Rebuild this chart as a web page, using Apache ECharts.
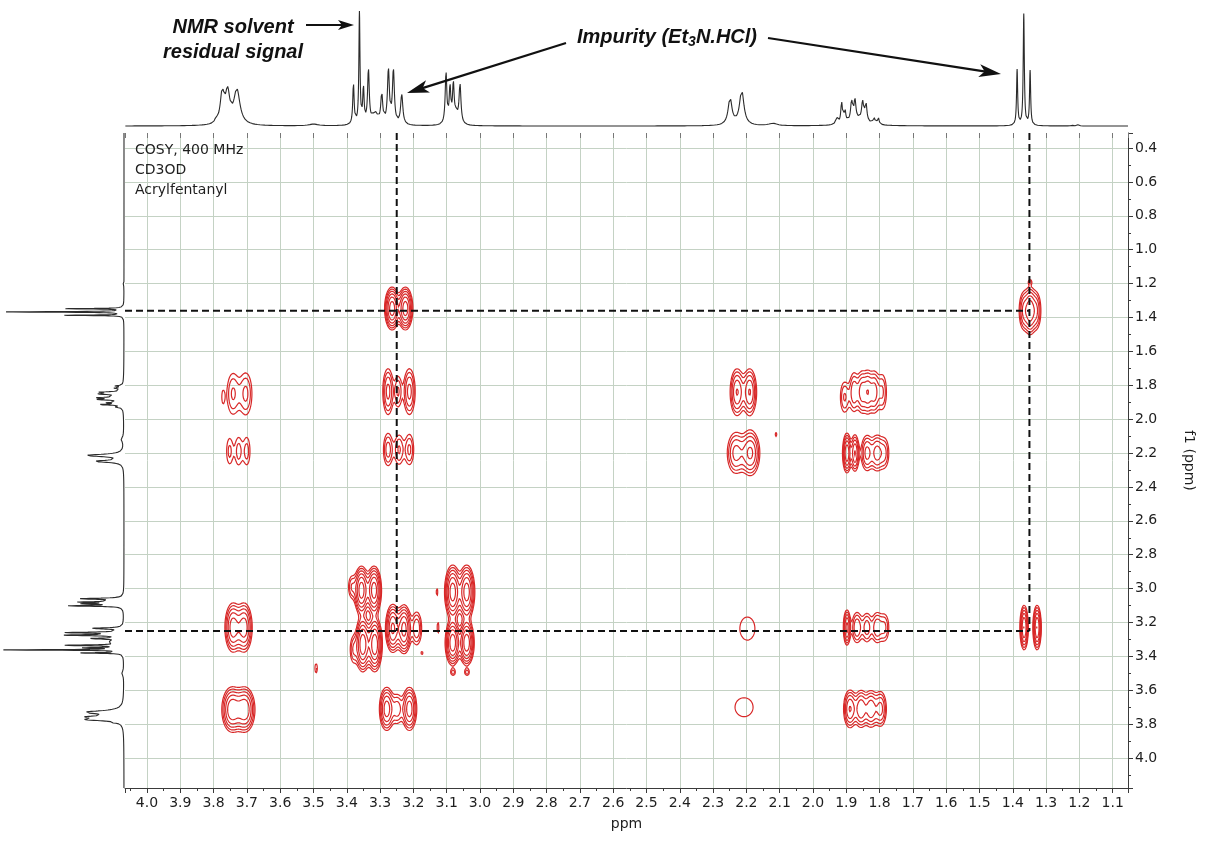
<!DOCTYPE html>
<html>
<head>
<meta charset="utf-8">
<title>COSY – Acrylfentanyl</title>
<script src="https://cdn.jsdelivr.net/npm/echarts@6/dist/echarts.min.js"></script>
<style>
  html, body { margin: 0; padding: 0; background: #ffffff; }
  #chart { width: 1205px; height: 846px; }
</style>
</head>
<body>
<div id="chart"></div>
<script>
// ---------------------------------------------------------------
// Data
// ---------------------------------------------------------------

// Chemical-shift window of the 2D map (ppm)
const f2Range = [1.054, 4.066];   // horizontal axis, drawn high -> low
const f1Range = [0.311, 4.177];   // vertical axis, drawn high -> low (downwards)

// 1H projection lines: [shift ppm, height, line width (FWHM, ppm)]
const protonPeaks = [
  [3.792, 4, 0.006], [3.774, 26, 0.014], [3.758, 26, 0.016], [3.730, 30, 0.022],
  [3.500, 1.5, 0.03],
  [3.380, 35, 0.005], [3.362, 96, 0.004], [3.350, 30, 0.005], [3.335, 46, 0.006],
  [3.315, 10, 0.02],
  [3.295, 25, 0.007], [3.275, 46, 0.007], [3.260, 46, 0.007], [3.235, 26, 0.008],
  [3.102, 44, 0.006], [3.090, 30, 0.006], [3.080, 32, 0.006], [3.072, 8, 0.012], [3.060, 34, 0.007],
  [2.249, 23, 0.014], [2.214, 30, 0.016], [2.120, 2, 0.03],
  [1.929, 6, 0.007], [1.914, 18, 0.006], [1.904, 11, 0.006], [1.884, 17, 0.007], [1.874, 17, 0.007],
  [1.851, 16, 0.007], [1.841, 16, 0.007], [1.817, 6, 0.006], [1.804, 6, 0.006], [1.865, 5, 0.06],
  [1.387, 48, 0.004], [1.367, 96, 0.004], [1.348, 47, 0.004],
  [1.223, 1.5, 0.004], [1.203, 1.5, 0.004]
];

// COSY cross-peak components: [F2 ppm, F1 ppm, amplitude, sigma F2, sigma F1]
const crossPeaks = [
  // F2 ≈ 3.72
  [3.742, 1.85, 2.2, 0.014, 0.094], [3.703, 1.85, 2.3, 0.014, 0.094], [3.772, 1.87, 1.1, 0.005, 0.05],
  [3.752, 2.19, 1.6, 0.009, 0.075], [3.725, 2.19, 1.7, 0.009, 0.075], [3.700, 2.19, 1.7, 0.009, 0.075],
  [3.742, 3.23, 5.5, 0.013, 0.078], [3.708, 3.23, 5.5, 0.013, 0.078],
  [3.745, 3.714, 6.0, 0.016, 0.07], [3.706, 3.714, 6.0, 0.016, 0.07],
  // F2 ≈ 3.25
  [3.264, 1.347, 8, 0.011, 0.062], [3.224, 1.347, 8, 0.011, 0.062],
  [3.276, 1.837, 3.5, 0.010, 0.085], [3.246, 1.837, 2.2, 0.008, 0.07], [3.212, 1.837, 3.5, 0.011, 0.085],
  [3.276, 2.18, 2.6, 0.010, 0.068], [3.243, 2.18, 2.2, 0.010, 0.068], [3.212, 2.18, 2.3, 0.010, 0.068],
  [3.262, 3.235, 7, 0.011, 0.072], [3.228, 3.24, 7.5, 0.011, 0.072], [3.190, 3.235, 3.0, 0.010, 0.065],
  [3.280, 3.71, 5.5, 0.012, 0.069], [3.248, 3.71, 2.5, 0.010, 0.06], [3.212, 3.71, 5.5, 0.012, 0.069],
  // F2 ≈ 3.35
  [3.356, 3.01, 8, 0.011, 0.07], [3.318, 3.01, 8, 0.011, 0.07], [3.385, 2.99, 2.0, 0.008, 0.05],
  [3.352, 3.33, 8.5, 0.011, 0.078], [3.316, 3.33, 8.5, 0.011, 0.078], [3.380, 3.36, 2.0, 0.008, 0.06],
  // F2 ≈ 3.05
  [3.082, 3.02, 8, 0.012, 0.078], [3.040, 3.02, 8, 0.012, 0.078],
  [3.082, 3.32, 8.5, 0.011, 0.065], [3.040, 3.32, 8.5, 0.011, 0.065],
  [3.081, 3.495, 1.6, 0.006, 0.016], [3.039, 3.495, 1.6, 0.006, 0.016],
  [3.129, 3.02, 1.3, 0.003, 0.03], [3.126, 3.23, 1.4, 0.003, 0.04],
  [3.492, 3.47, 1.5, 0.004, 0.03], [3.174, 3.38, 1.4, 0.003, 0.01],
  // F2 ≈ 2.2
  [2.228, 1.84, 4.5, 0.012, 0.079], [2.190, 1.84, 4.5, 0.012, 0.079],
  [2.232, 2.20, 3.5, 0.016, 0.075], [2.188, 2.20, 4.8, 0.016, 0.075],
  [2.111, 2.09, 1.4, 0.003, 0.015],
  [2.197, 3.236, 1.4, 0.0275, 0.083],
  [2.207, 3.70, 1.4, 0.033, 0.068],
  // F2 ≈ 1.85
  [1.905, 1.87, 2.2, 0.010, 0.07], [1.877, 1.84, 2.8, 0.009, 0.078], [1.853, 1.84, 3.6, 0.009, 0.075],
  [1.835, 1.84, 3.6, 0.008, 0.075], [1.816, 1.84, 3.6, 0.009, 0.075], [1.792, 1.84, 2.2, 0.010, 0.08],
  [1.898, 2.20, 6, 0.007, 0.062], [1.874, 2.20, 4.5, 0.007, 0.062], [1.838, 2.20, 3.5, 0.011, 0.065],
  [1.808, 2.20, 3.5, 0.011, 0.065], [1.785, 2.20, 2.2, 0.010, 0.065],
  [1.898, 3.23, 5, 0.006, 0.058], [1.868, 3.23, 3, 0.010, 0.06], [1.838, 3.23, 2.6, 0.010, 0.06],
  [1.808, 3.23, 2.8, 0.010, 0.06], [1.785, 3.23, 2.2, 0.010, 0.06],
  [1.889, 3.71, 4.5, 0.011, 0.064], [1.856, 3.71, 4.2, 0.011, 0.064], [1.826, 3.71, 4.0, 0.011, 0.064],
  [1.797, 3.71, 3.5, 0.011, 0.064],
  // F2 ≈ 1.35
  [1.367, 1.36, 3.2, 0.009, 0.07], [1.348, 1.36, 5.5, 0.009, 0.075], [1.329, 1.36, 3.0, 0.009, 0.07],
  [1.348, 1.19, 1.4, 0.004, 0.012],
  [1.366, 3.23, 6.5, 0.0065, 0.068], [1.327, 3.23, 6.5, 0.0065, 0.068]
];

// Contour levels (same units as the cross-peak amplitudes)
const contourLevels = [1, 1.45, 2.1, 3.05, 4.4, 6.4, 9.3];

// Et3N.HCl shifts used for the dashed guides: [CH2, CH3]
const impurityF2 = [3.25, 1.35];
const impurityF1 = [3.25, 1.36];

// Sample text in the map corner
const infoLines = ['COSY, 400 MHz', 'CD3OD', 'Acrylfentanyl'];

// ---------------------------------------------------------------
// 1D projection traces (sum of Lorentzian lines)
// ---------------------------------------------------------------
const STEP = 0.0005;
function spectrumAt(x) {
  let s = 0;
  for (const [c, h, w] of protonPeaks) {
    const hw = w / 2, d = x - c;
    s += h * hw * hw / (d * d + hw * hw);
  }
  return s;
}
function sampleTrace(range) {
  const out = [];
  const n = Math.round((range[1] - range[0]) / STEP);
  for (let k = 0; k <= n; k++) {
    const x = +(range[0] + k * STEP).toFixed(4);
    out.push([x, spectrumAt(x)]);
  }
  return out;
}
const topTrace = sampleTrace(f2Range);
const leftTrace = sampleTrace(f1Range).map(p => [p[1], p[0]]);

// ---------------------------------------------------------------
// 2D field and contour tracing (marching squares)
// ---------------------------------------------------------------
const DX = 0.003, DY = 0.006;
const FX0 = 1.04, FY0 = 0.29;
const NX = Math.round((4.08 - FX0) / DX) + 1;
const NY = Math.round((4.19 - FY0) / DY) + 1;
const field = new Float64Array(NX * NY);

for (const [cx, cy, a, sx, sy] of crossPeaks) {
  const i0 = Math.max(0, Math.floor((cx - 4 * sx - FX0) / DX));
  const i1 = Math.min(NX - 1, Math.ceil((cx + 4 * sx - FX0) / DX));
  const j0 = Math.max(0, Math.floor((cy - 4 * sy - FY0) / DY));
  const j1 = Math.min(NY - 1, Math.ceil((cy + 4 * sy - FY0) / DY));
  const gx = [];
  for (let i = i0; i <= i1; i++) {
    const d = FX0 + i * DX - cx;
    gx.push(Math.exp(-d * d / (2 * sx * sx)));
  }
  for (let j = j0; j <= j1; j++) {
    const d = FY0 + j * DY - cy;
    const gy = a * Math.exp(-d * d / (2 * sy * sy));
    const row = j * NX;
    for (let i = i0; i <= i1; i++) field[row + i] += gy * gx[i - i0];
  }
}

function traceLevel(L) {
  const pos = new Map();
  const adj = new Map();
  const f = field;
  function pt(key) {
    if (pos.has(key)) return;
    const cell = Math.floor(key / 2);
    const i = cell % NX, j = (cell - i) / NX;
    let x, y;
    if (key % 2 === 1) {
      const va = f[j * NX + i], vb = f[(j + 1) * NX + i];
      const t = (L - va) / (vb - va);
      x = FX0 + i * DX; y = FY0 + (j + t) * DY;
    } else {
      const va = f[j * NX + i], vb = f[j * NX + i + 1];
      const t = (L - va) / (vb - va);
      x = FX0 + (i + t) * DX; y = FY0 + j * DY;
    }
    pos.set(key, [x, y]);
  }
  function link(a, b) {
    pt(a); pt(b);
    if (!adj.has(a)) adj.set(a, []);
    if (!adj.has(b)) adj.set(b, []);
    adj.get(a).push(b);
    adj.get(b).push(a);
  }
  for (let j = 0; j < NY - 1; j++) {
    for (let i = 0; i < NX - 1; i++) {
      const v0 = f[j * NX + i], v1 = f[j * NX + i + 1];
      const v2 = f[(j + 1) * NX + i + 1], v3 = f[(j + 1) * NX + i];
      const c = (v0 > L ? 1 : 0) | (v1 > L ? 2 : 0) | (v2 > L ? 4 : 0) | (v3 > L ? 8 : 0);
      if (c === 0 || c === 15) continue;
      const e0 = (j * NX + i) * 2;
      const e1 = (j * NX + i + 1) * 2 + 1;
      const e2 = ((j + 1) * NX + i) * 2;
      const e3 = (j * NX + i) * 2 + 1;
      switch (c) {
        case 1: case 14: link(e3, e0); break;
        case 2: case 13: link(e0, e1); break;
        case 3: case 12: link(e3, e1); break;
        case 4: case 11: link(e1, e2); break;
        case 6: case 9: link(e0, e2); break;
        case 7: case 8: link(e3, e2); break;
        case 5: {
          const m = (v0 + v1 + v2 + v3) / 4;
          if (m > L) { link(e0, e1); link(e2, e3); } else { link(e3, e0); link(e1, e2); }
          break;
        }
        case 10: {
          const m = (v0 + v1 + v2 + v3) / 4;
          if (m > L) { link(e3, e0); link(e1, e2); } else { link(e0, e1); link(e2, e3); }
          break;
        }
      }
    }
  }
  const visited = new Set();
  const paths = [];
  function walk(start) {
    const out = [pos.get(start)];
    visited.add(start);
    let cur = start;
    for (;;) {
      const nb = adj.get(cur);
      let next = -1;
      for (const n of nb) if (!visited.has(n)) { next = n; break; }
      if (next < 0) {
        if (out.length > 2 && nb.indexOf(start) >= 0) out.push(pos.get(start));
        break;
      }
      visited.add(next);
      out.push(pos.get(next));
      cur = next;
    }
    return out;
  }
  for (const [k, nb] of adj) if (nb.length === 1 && !visited.has(k)) paths.push(walk(k));
  for (const k of adj.keys()) if (!visited.has(k)) paths.push(walk(k));
  return paths;
}

const contourPaths = [];
for (const L of contourLevels) {
  for (const p of traceLevel(L)) if (p.length > 2) contourPaths.push({ coords: p });
}

// Dashed guides: verticals from the top edge down to the CH2 row,
// horizontals from the left edge across to the CH3 column.
const guideSegments = [];
impurityF2.forEach(x => guideSegments.push([[x, f1Range[0]], [x, impurityF1[0]]]));
impurityF1.forEach(y => guideSegments.push([[f2Range[1], y], [impurityF2[1], y]]));

// ---------------------------------------------------------------
// Chart
// ---------------------------------------------------------------
const AXIS_FONT = 'DejaVu Sans';
const axisColor = '#3a3a3a';
const gridColor = '#c4d2c4';

function arrow(x1, y1, x2, y2, len, half) {
  const a = Math.atan2(y2 - y1, x2 - x1);
  const ca = Math.cos(a), sa = Math.sin(a);
  const bx = x2 - len * ca, by = y2 - len * sa;
  const nx = -sa * half, ny = ca * half;
  return [
    { type: 'line', z: 100, shape: { x1: x1, y1: y1, x2: bx + 0.3 * len * ca, y2: by + 0.3 * len * sa },
      style: { stroke: '#111', lineWidth: 2.2 } },
    { type: 'polygon', z: 100,
      shape: { points: [[x2, y2], [bx + nx, by + ny], [bx + 0.25 * len * ca, by + 0.25 * len * sa], [bx - nx, by - ny]] },
      style: { fill: '#111' } }
  ];
}

const annoFont = { fontFamily: 'Liberation Sans', fontStyle: 'italic', fontWeight: 'bold', fontSize: 20, fill: '#111', color: '#111' };

const graphics = [
  { type: 'text', z: 100, x: 233, y: 27,
    style: Object.assign({ text: 'NMR solvent', align: 'center', verticalAlign: 'middle', textAlign: 'center', textVerticalAlign: 'middle' }, annoFont) },
  { type: 'text', z: 100, x: 233, y: 52,
    style: Object.assign({ text: 'residual signal', align: 'center', verticalAlign: 'middle', textAlign: 'center', textVerticalAlign: 'middle' }, annoFont) },
  { type: 'text', z: 100, x: 577, y: 37,
    style: {
      text: '{a|Impurity (Et}{s|3}{a|N.HCl)}',
      align: 'left', verticalAlign: 'middle', textAlign: 'left', textVerticalAlign: 'middle',
      rich: {
        a: Object.assign({ lineHeight: 24, verticalAlign: 'middle' }, annoFont),
        s: Object.assign({}, annoFont, { fontSize: 14, lineHeight: 14, verticalAlign: 'bottom' })
      }
    } }
].concat(
  arrow(306, 25, 354, 25, 16, 5),
  arrow(566, 43, 407, 93, 22, 6.5),
  arrow(768, 38, 1001, 74, 22, 6.5),
  infoLines.map((t, k) => ({
    type: 'text', z: 100, x: 135, y: 150 + k * 20,
    style: { text: t, fontFamily: AXIS_FONT, fontSize: 14, fill: '#1e1e1e', align: 'left', verticalAlign: 'middle', textAlign: 'left', textVerticalAlign: 'middle' }
  }))
);

const option = {
  animation: false,
  backgroundColor: '#ffffff',
  grid: [
    { left: 125, top: 133, width: 1003, height: 655, outerBoundsMode: 'none', containLabel: false },
    { left: 125, top: 0, width: 1003, height: 128, outerBoundsMode: 'none', containLabel: false },
    { left: 0, top: 133, width: 125, height: 655, outerBoundsMode: 'none', containLabel: false }
  ],
  xAxis: [
    {
      gridIndex: 0, type: 'value', min: f2Range[0], max: f2Range[1], inverse: true, position: 'bottom',
      minInterval: 0.1, maxInterval: 0.1,
      axisLine: { show: true, onZero: false, lineStyle: { color: axisColor, width: 1 } },
      axisTick: { show: true, length: 5, lineStyle: { color: axisColor } },
      minorTick: { show: true, splitNumber: 2, length: 3, lineStyle: { color: axisColor } },
      axisLabel: { show: true, showMinLabel: false, showMaxLabel: false, margin: 8,
        formatter: v => v.toFixed(1), color: '#1e1e1e', fontFamily: AXIS_FONT, fontSize: 14 },
      splitLine: { show: true, showMinLine: false, showMaxLine: false, lineStyle: { color: gridColor, width: 1 } },
      name: 'ppm', nameLocation: 'middle', nameGap: 29,
      nameTextStyle: { color: '#1e1e1e', fontFamily: AXIS_FONT, fontSize: 14 }
    },
    {
      gridIndex: 0, type: 'value', min: f2Range[0], max: f2Range[1], inverse: true, position: 'top',
      minInterval: 0.1, maxInterval: 0.1,
      axisLine: { show: false },
      axisTick: { show: true, inside: true, length: 5, lineStyle: { color: '#777' } },
      axisLabel: { show: false }, splitLine: { show: false }
    },
    { gridIndex: 1, type: 'value', min: f2Range[0], max: f2Range[1], inverse: true, show: false },
    { gridIndex: 2, type: 'value', min: -0.82, max: 102, inverse: true, show: false }
  ],
  yAxis: [
    {
      gridIndex: 0, type: 'value', min: f1Range[0], max: f1Range[1], inverse: true, position: 'right',
      minInterval: 0.2, maxInterval: 0.2,
      axisLine: { show: true, onZero: false, lineStyle: { color: axisColor, width: 1 } },
      axisTick: { show: true, length: 5, lineStyle: { color: axisColor } },
      minorTick: { show: true, splitNumber: 2, length: 3, lineStyle: { color: axisColor } },
      axisLabel: { show: true, showMinLabel: false, showMaxLabel: false, margin: 7,
        formatter: v => v.toFixed(1), color: '#1e1e1e', fontFamily: AXIS_FONT, fontSize: 14 },
      splitLine: { show: true, showMinLine: false, showMaxLine: false, lineStyle: { color: gridColor, width: 1 } },
      name: 'f1 (ppm)', nameLocation: 'middle', nameGap: 54, nameRotate: -90,
      nameTextStyle: { color: '#1e1e1e', fontFamily: AXIS_FONT, fontSize: 14 }
    },
    { gridIndex: 1, type: 'value', min: -1.7, max: 108.6, show: false },
    { gridIndex: 2, type: 'value', min: f1Range[0], max: f1Range[1], inverse: true, show: false }
  ],
  series: [
    {
      type: 'lines', coordinateSystem: 'cartesian2d', xAxisIndex: 0, yAxisIndex: 0,
      polyline: true, silent: true, z: 3,
      lineStyle: { color: '#d82828', width: 1.2, opacity: 1 },
      data: contourPaths
    },
    {
      type: 'line', xAxisIndex: 2, yAxisIndex: 1, data: topTrace, showSymbol: false, silent: true,
      lineStyle: { color: '#2b2b2b', width: 1.1 }, z: 3
    },
    {
      type: 'line', xAxisIndex: 3, yAxisIndex: 2, data: leftTrace, showSymbol: false, silent: true,
      lineStyle: { color: '#2b2b2b', width: 1.1 }, z: 3
    }
  ].concat(guideSegments.map(seg => ({
    type: 'line', xAxisIndex: 0, yAxisIndex: 0, data: seg, showSymbol: false, silent: true,
    lineStyle: { color: '#111111', width: 2, type: [7, 4] }, z: 5
  }))),
  graphic: graphics
};

const chart = echarts.init(document.getElementById('chart'), null, { renderer: 'canvas' });
chart.setOption(option);
</script>
</body>
</html>
